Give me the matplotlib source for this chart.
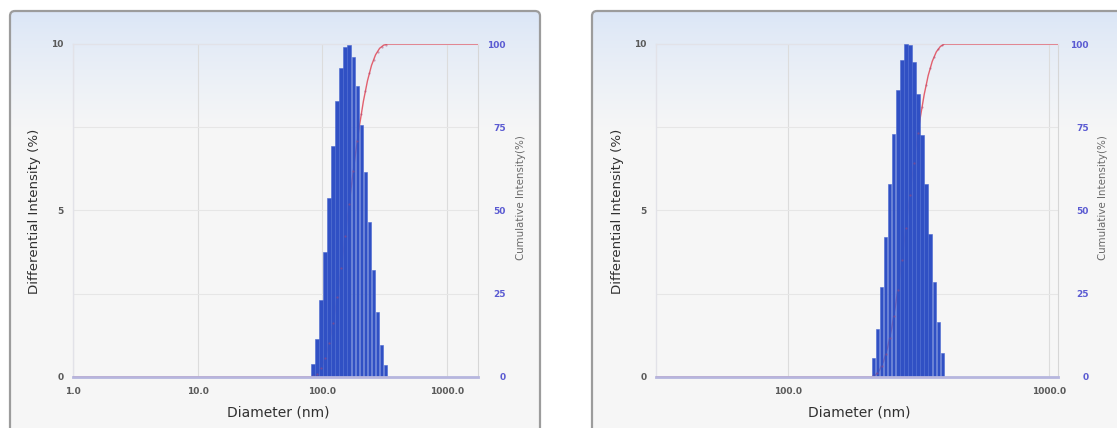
import numpy as np
import matplotlib
matplotlib.use("Agg")
import matplotlib.pyplot as plt
from matplotlib.patches import FancyBboxPatch
from matplotlib.ticker import FixedLocator, NullLocator

# ---------------- data ----------------
left_diam = [84.0, 90.5, 97.5, 105.1, 113.2, 122.1, 131.5, 141.8, 152.8, 164.7,
             177.5, 191.3, 206.1, 222.2, 239.4, 258.0, 278.1, 299.7, 322.9]
left_int = [0.40, 1.15, 2.30, 3.76, 5.37, 6.95, 8.30, 9.28, 9.90, 9.98,
            9.60, 8.73, 7.57, 6.17, 4.66, 3.20, 1.96, 0.95, 0.35]

right_diam = [212.2, 219.9, 228.0, 236.3, 244.9, 253.8, 263.1, 272.7, 282.6,
              292.9, 303.6, 314.7, 326.2, 338.0, 350.4, 363.1, 376.4, 390.1]
right_int = [0.58, 1.44, 2.69, 4.20, 5.80, 7.31, 8.61, 9.52, 10.00, 9.97,
             9.47, 8.51, 7.28, 5.80, 4.30, 2.84, 1.64, 0.73]

left_xticks = [1.0, 10.0, 100.0, 1000.0]
left_xticklabels = ["1.0", "10.0", "100.0", "1000.0"]
left_xlim = (1.0, 1778.0)
right_xticks = [100.0, 1000.0]
right_xticklabels = ["100.0", "1000.0"]
right_xlim = (31.2, 1081.0)

diff_ticks = [0, 5, 10]
cum_ticks = [0, 25, 50, 75, 100]

xlabel = "Diameter (nm)"
ylabel_left = "Differential Intensity (%)"
ylabel_right = "Cumulative Intensity(%)"

# ---------------- figure ----------------
W, H = 1117, 428
fig = plt.figure(figsize=(W / 100, H / 100), dpi=100, facecolor="white")

bg = fig.add_axes([0, 0, 1, 1])
bg.set_xlim(0, W)
bg.set_ylim(H, 0)
bg.axis("off")

top_col = np.array([0.855, 0.900, 0.965])
bot_col = np.array([0.968, 0.968, 0.968])
grad_h = 400
t = np.clip(np.linspace(0, 1, grad_h) / 0.28, 0, 1)[:, None] ** 0.8
grad = top_col[None, :] * (1 - t) + bot_col[None, :] * t
grad = np.repeat(grad[:, None, :], 2, axis=1)

frames = [(10, 11, 530, 440), (592, 11, 540, 440)]
for (fx, fy, fw, fh) in frames:
    patch = FancyBboxPatch((fx, fy), fw, fh, boxstyle="round,pad=0,rounding_size=5",
                           facecolor="none", edgecolor="#9c9c9c", linewidth=1.6, zorder=3)
    bg.add_patch(patch)
    im = bg.imshow(grad, extent=(fx, fx + fw, fy + fh, fy), aspect="auto", zorder=1,
                   interpolation="bilinear")
    clip = FancyBboxPatch((fx, fy), fw, fh, boxstyle="round,pad=0,rounding_size=5",
                          facecolor="none", edgecolor="none", transform=bg.transData)
    im.set_clip_path(clip)


def px_rect(x0, y0, x1, y1):
    return [x0 / W, 1 - y1 / H, (x1 - x0) / W, (y1 - y0) / H]


def make_panel(rect, diam, inten, xlim, xticks, xticklabels, lab_x, ylab_x, rlab_x,
               rpad):
    ax = fig.add_axes(rect)
    ax.set_facecolor("none")
    ax.set_xscale("log")
    ax.set_xlim(*xlim)
    ax.set_ylim(0, 10)

    d = np.asarray(diam, dtype=float)
    v = np.asarray(inten, dtype=float)
    logd = np.log10(d)
    hw = np.mean(np.diff(logd)) / 2.0
    lefts = 10 ** (logd - hw * 0.88)
    rights = 10 ** (logd + hw * 0.88)
    ax.bar(lefts, v, width=rights - lefts, align="edge", color="#3050c4",
           edgecolor="#4a68d0", linewidth=0.4, zorder=4)

    # cumulative curve (scaled onto 0-10 axis) behind bars
    cum = np.cumsum(v) / np.sum(v) * 100.0
    edges_r = 10 ** (logd + hw)
    cx = np.concatenate([[xlim[0], 10 ** (logd[0] - hw)], edges_r, [xlim[1]]])
    cy = np.concatenate([[0, 0], cum, [100]])
    ax.plot(cx, cy / 10.0, color="#e2606e", lw=1.0, zorder=3)
    ax.plot(d, (cum - v / np.sum(v) * 50) / 10.0, "o", ms=1.6, color="#b04870",
            alpha=0.5, zorder=5, mec="none")

    # grid
    for xv in xticks:
        ax.axvline(xv, color="#dcdcdc", lw=0.8, zorder=1)
    for yv in [2.5, 5, 7.5]:
        ax.axhline(yv, color="#e6e6e6", lw=0.8, zorder=1)

    ax.xaxis.set_major_locator(FixedLocator(xticks))
    ax.xaxis.set_minor_locator(NullLocator())
    ax.set_xticklabels(xticklabels)
    ax.set_yticks(diff_ticks)
    ax.tick_params(length=0, labelsize=6.5, colors="#555555", pad=7)
    for lab in ax.get_xticklabels() + ax.get_yticklabels():
        lab.set_fontweight("bold")
        lab.set_color("#5a5a5a")
    ax.tick_params(axis="y", pad=7)

    for s in ["top", "left"]:
        ax.spines[s].set_color("#e2e2e8")
        ax.spines[s].set_linewidth(1.0)
    ax.spines["right"].set_color("#d6d6d6")
    ax.spines["bottom"].set_color("#b6b6de")
    ax.spines["bottom"].set_linewidth(2.0)
    ax.spines["bottom"].set_zorder(6)

    ax2 = ax.twinx()
    ax2.set_ylim(0, 100)
    ax2.set_yticks(cum_ticks)
    ax2.tick_params(length=0, labelsize=6.5, pad=rpad)
    for lab in ax2.get_yticklabels():
        lab.set_color("#5b5bd2")
        lab.set_fontweight("bold")
        lab.set_horizontalalignment("right")
    for s in ax2.spines.values():
        s.set_visible(False)

    fig.text(lab_x / W, 1 - 412 / H, xlabel, ha="center", va="center",
             fontsize=10, color="#303030")
    fig.text(ylab_x / W, 1 - 211 / H, ylabel_left, ha="center", va="center",
             rotation=90, fontsize=9.6, color="#303030")
    fig.text(rlab_x / W, 1 - 198 / H, ylabel_right, ha="center", va="center",
             rotation=90, fontsize=7.4, color="#6a6a6a")
    return ax


make_panel(px_rect(73, 44, 478, 377), left_diam, left_int, left_xlim,
           left_xticks, left_xticklabels, 278, 35, 521, 20)
make_panel(px_rect(656, 44, 1058, 377), right_diam, right_int, right_xlim,
           right_xticks, right_xticklabels, 859, 617, 1103, 22)

fig.savefig("out.png", dpi=100, facecolor="white")
